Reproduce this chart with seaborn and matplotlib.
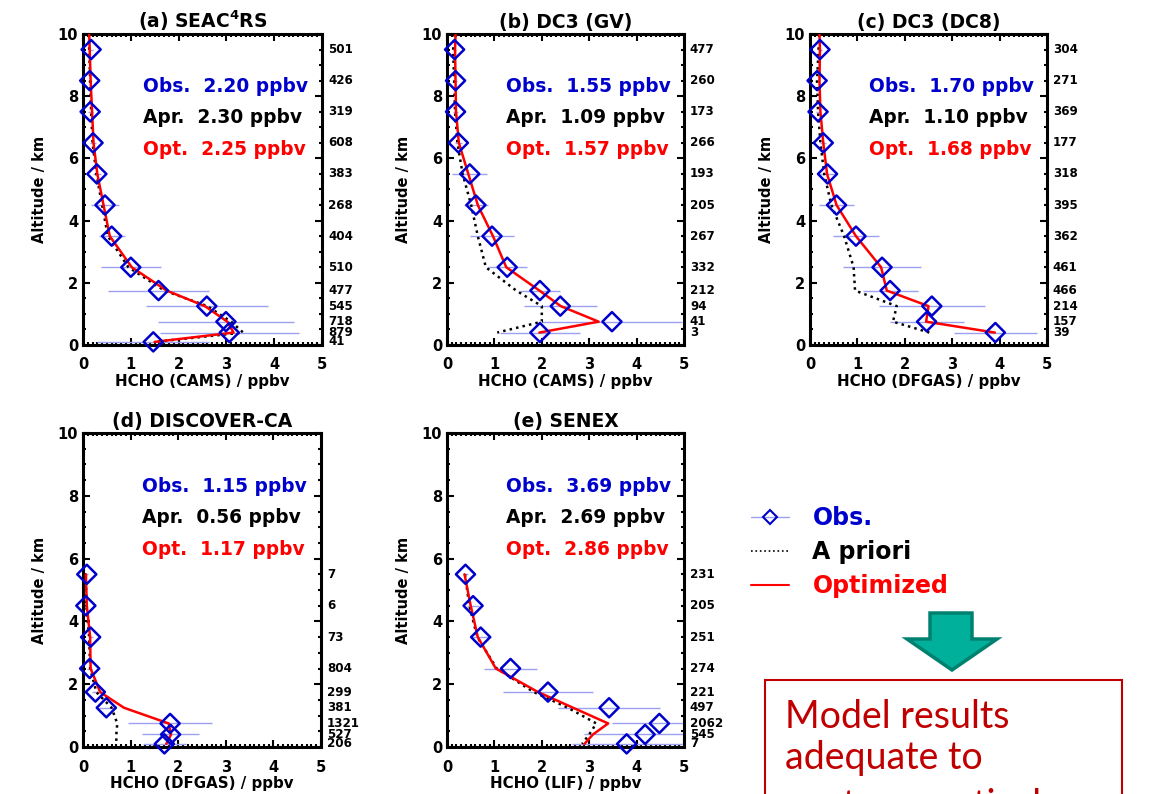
import numpy as np
import matplotlib
matplotlib.use('Agg')
import matplotlib.pyplot as plt
from matplotlib.lines import Line2D
from matplotlib.patches import Polygon, Rectangle
from matplotlib.ticker import MultipleLocator
import seaborn as sns

# altitude bins (km)
alt_full = [9.5, 8.5, 7.5, 6.5, 5.5, 4.5, 3.5, 2.5, 1.75, 1.25, 0.75, 0.4, 0.1]
alt_12 = alt_full[:12]
alt_low = [5.5, 4.5, 3.5, 2.5, 1.75, 1.25, 0.75, 0.4, 0.1]

# (a) SEAC4RS
obs_a = [0.17, 0.14, 0.15, 0.21, 0.29, 0.46, 0.60, 1.00, 1.58, 2.59, 2.99, 3.06, 1.47]
err_a = [0.04, 0.04, 0.05, 0.06, 0.08, 0.30, 0.27, 0.63, 1.05, 1.27, 1.42, 1.45, 1.17]
opt_a = [0.13, 0.14, 0.16, 0.19, 0.22, 0.30, 0.43, 0.56, 1.02, 1.75, 2.55, 3.02, 3.15, 1.50]
apr_a = [0.12, 0.13, 0.15, 0.17, 0.20, 0.28, 0.40, 0.52, 0.95, 1.70, 2.60, 3.10, 3.35, 1.50]
n_a = ['501', '426', '319', '608', '383', '268', '404', '510', '477', '545', '718', '879', '41']

# (b) DC3 (GV)
obs_b = [0.16, 0.18, 0.18, 0.24, 0.48, 0.61, 0.95, 1.27, 1.96, 2.39, 3.48, 1.96]
err_b = [0.04, 0.04, 0.05, 0.07, 0.37, 0.25, 0.46, 0.41, 0.42, 0.77, 1.48, 0.85]
opt_b = [0.18, 0.17, 0.18, 0.19, 0.25, 0.45, 0.65, 0.97, 1.25, 1.95, 2.40, 3.20, 1.95]
apr_b = [0.15, 0.13, 0.15, 0.17, 0.22, 0.33, 0.51, 0.65, 0.82, 1.46, 2.00, 2.00, 1.06]
n_b = ['477', '260', '173', '266', '193', '205', '267', '332', '212', '94', '41', '3']

# (c) DC3 (DC8)
obs_c = [0.21, 0.15, 0.17, 0.28, 0.37, 0.56, 0.97, 1.52, 1.69, 2.57, 2.46, 3.91]
err_c = [0.04, 0.04, 0.05, 0.06, 0.15, 0.36, 0.49, 0.82, 0.58, 1.12, 0.78, 0.87]
opt_c = [0.20, 0.21, 0.20, 0.22, 0.28, 0.36, 0.56, 0.97, 1.50, 1.62, 2.50, 2.45, 3.90]
apr_c = [0.19, 0.18, 0.15, 0.17, 0.22, 0.30, 0.45, 0.72, 0.92, 0.95, 1.83, 1.75, 2.52]
n_c = ['304', '271', '369', '177', '318', '395', '362', '461', '466', '214', '157', '39']

# (d) DISCOVER-CA
obs_d = [0.08, 0.06, 0.16, 0.14, 0.26, 0.49, 1.83, 1.84, 1.71]
err_d = [0.02, 0.02, 0.04, 0.05, 0.08, 0.20, 0.88, 0.60, 0.46]
opt_d = [0.06, 0.08, 0.15, 0.16, 0.36, 0.86, 1.80, 1.85, 1.75]
apr_d = [0.06, 0.07, 0.13, 0.15, 0.28, 0.60, 0.72, 0.70, 0.70]
n_d = ['7', '6', '73', '804', '299', '381', '1321', '527', '206']

# (e) SENEX
obs_e = [0.39, 0.55, 0.71, 1.34, 2.13, 3.42, 4.48, 4.18, 3.79]
err_e = [0.05, 0.12, 0.21, 0.55, 0.95, 1.07, 1.00, 1.30, 1.16]
opt_e = [0.37, 0.50, 0.65, 1.03, 1.92, 2.66, 3.40, 3.08, 2.90]
apr_e = [0.38, 0.47, 0.64, 1.05, 1.83, 2.55, 3.15, 3.00, 2.85]
n_e = ['231', '205', '251', '274', '221', '497', '2062', '545', '7']

titles = [r'(a) SEAC$^{\mathbf{4}}$RS', '(b) DC3 (GV)', '(c) DC3 (DC8)',
          '(d) DISCOVER-CA', '(e) SENEX']
xlabels = ['HCHO (CAMS) / ppbv', 'HCHO (CAMS) / ppbv', 'HCHO (DFGAS) / ppbv',
           'HCHO (DFGAS) / ppbv', 'HCHO (LIF) / ppbv']
mean_obs = ['2.20', '1.55', '1.70', '1.15', '3.69']
mean_apr = ['2.30', '1.09', '1.10', '0.56', '2.69']
mean_opt = ['2.25', '1.57', '1.68', '1.17', '2.86']

BLUE = '#0000CC'
ERR = '#9da0f0'

sns.set_style('ticks')
plt.rcParams['font.family'] = ['DejaVu Sans']
plt.rcParams['font.weight'] = 'bold'
plt.rcParams['axes.labelweight'] = 'bold'
plt.rcParams['axes.titleweight'] = 'bold'
for key in ['text.color', 'axes.labelcolor', 'xtick.color', 'ytick.color',
            'axes.edgecolor']:
    plt.rcParams[key] = 'black'

fig = plt.figure(figsize=(11.52, 7.94), dpi=100)

# axes boxes in pixels (left, right, top, bottom)
boxes = [(83, 322, 34, 345), (447, 684, 34, 345), (810, 1047, 34, 345),
         (83, 321, 433, 747), (447, 684, 433, 747)]

panels = [
    (alt_full, obs_a, err_a, [10] + alt_full, opt_a, apr_a, n_a),
    (alt_12, obs_b, err_b, [10] + alt_12, opt_b, apr_b, n_b),
    (alt_12, obs_c, err_c, [10] + alt_12, opt_c, apr_c, n_c),
    (alt_low, obs_d, err_d, alt_low, opt_d, apr_d, n_d),
    (alt_low, obs_e, err_e, alt_low, opt_e, apr_e, n_e),
]

W, H = 1152, 794
for i, (alt, obs, err, malt, opt, apr, counts) in enumerate(panels):
    l, r, t, b = boxes[i]
    ax = fig.add_axes([l / W, 1 - b / H, (r - l) / W, (b - t) / H])

    obs = np.array(obs)
    err = np.array(err)
    ax.hlines(alt, obs - err, obs + err, color=ERR, lw=1.0, zorder=1)
    sns.lineplot(x=apr, y=malt, sort=False, estimator=None, color='black',
                 linestyle=':', lw=1.8, ax=ax, zorder=2)
    sns.lineplot(x=opt, y=malt, sort=False, estimator=None, color='red',
                 lw=1.8, ax=ax, zorder=3)
    sns.scatterplot(x=obs, y=alt, marker='D', s=95, facecolor='none',
                    edgecolor=BLUE, linewidth=1.8, ax=ax, zorder=5, clip_on=False)

    ax.set_xlim(0, 5)
    ax.set_ylim(0, 10)
    ax.xaxis.set_major_locator(MultipleLocator(1))
    ax.xaxis.set_minor_locator(MultipleLocator(0.1))
    ax.yaxis.set_major_locator(MultipleLocator(2))
    ax.yaxis.set_minor_locator(MultipleLocator(0.5))
    ax.tick_params(which='both', direction='in', top=True, right=True,
                   labelsize=10.5, width=1.5)
    ax.tick_params(which='major', length=5)
    ax.tick_params(which='minor', length=2)
    ax.tick_params(axis='x', which='major', pad=9)
    for sp in ax.spines.values():
        sp.set_linewidth(2.2)

    ax.set_xlabel(xlabels[i], fontsize=10.8, labelpad=1)
    ax.set_ylabel('Altitude / km', fontsize=10.5, labelpad=8)
    ax.set_title(titles[i], fontsize=13.5, pad=4)

    ax.text(0.25, 8.3, 'Obs.  ' + mean_obs[i] + ' ppbv', color=BLUE,
            fontsize=13.4, va='center', transform=ax.get_yaxis_transform())
    ax.text(0.25, 7.3, 'Apr.  ' + mean_apr[i] + ' ppbv', color='black',
            fontsize=13.4, va='center', transform=ax.get_yaxis_transform())
    ax.text(0.25, 6.3, 'Opt.  ' + mean_opt[i] + ' ppbv', color='red',
            fontsize=13.4, va='center', transform=ax.get_yaxis_transform())

    for a, c in zip(alt, counts):
        ax.text(1.025, a, c, fontsize=8.6, va='center', ha='left',
                transform=ax.get_yaxis_transform())

# legend
handles = [Line2D([], [], color=ERR, lw=1.0, marker='D', ms=7, mfc='none',
                  mec=BLUE, mew=1.5),
           Line2D([], [], color='black', lw=1.2, linestyle=':'),
           Line2D([], [], color='red', lw=1.5)]
fig.legend(handles, ['Obs.', 'A priori', 'Optimized'], loc='upper left',
           bbox_to_anchor=(751 / W, 1 - 506 / H), frameon=False,
           prop={'weight': 'bold', 'size': 17}, handlelength=1.6,
           handletextpad=1.0, labelspacing=0.42, borderpad=0, borderaxespad=0,
           labelcolor=[BLUE, 'black', 'red'])

# arrow
pts = [(930, 613), (972, 613), (972, 639), (997, 639), (952, 670),
       (907, 639), (930, 639)]
arrow = Polygon([(x / W, 1 - y / H) for x, y in pts], closed=True,
                transform=fig.transFigure, facecolor='#00B09A',
                edgecolor='#00806F', lw=2.5)
fig.patches.append(arrow)

# conclusion box (runs off the bottom of the slide)
box = Rectangle((765 / W, -0.05), (1122 - 765) / W, (1 - 680 / H) + 0.05,
                transform=fig.transFigure, facecolor='none', edgecolor='#C00000',
                lw=1.5)
fig.patches.append(box)
for k, (line, base) in enumerate(zip(['Model results', 'adequate to', 'capture vertical'],
                                     [728, 769, 817])):
    fig.text(785 / W, 1 - base / H, line, color='#C00000',
             fontsize=27, family='Lato', weight='normal', va='baseline')

plt.savefig('out.png', dpi=100)
